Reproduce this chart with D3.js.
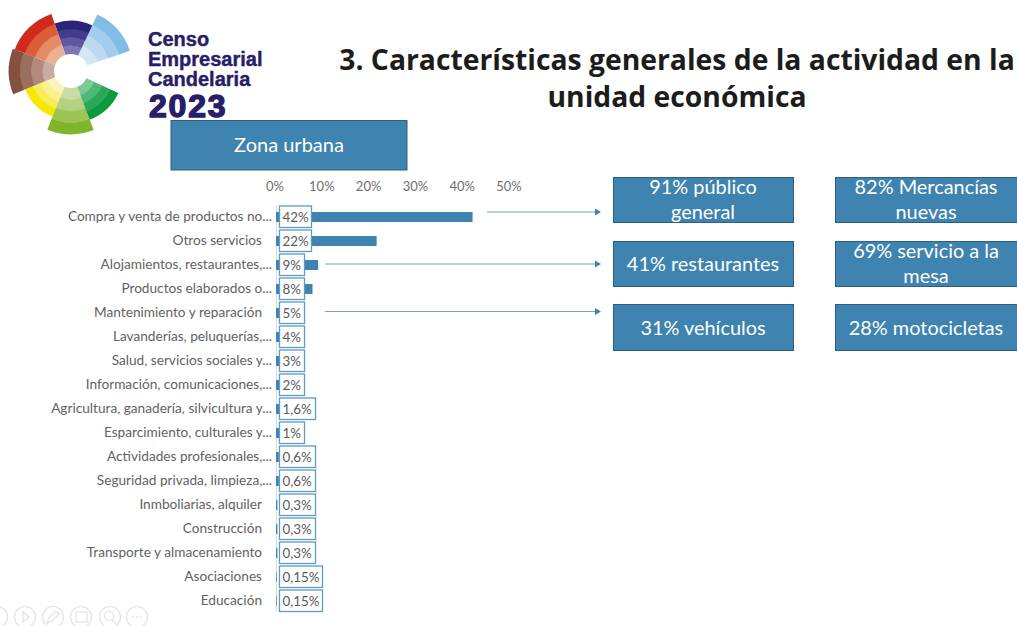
<!DOCTYPE html>
<html lang="es"><head><meta charset="utf-8">
<script src="https://cdn.jsdelivr.net/npm/d3@7"></script>
<style>
html,body{margin:0;padding:0;background:#fff;overflow:hidden}
svg{display:block}
text{font-family:Lato,"Open Sans",sans-serif}
</style></head><body><svg id="c" width="1017" height="626"></svg>
<script>
const categories=["Compra y venta de productos no...","Otros servicios","Alojamientos, restaurantes,...","Productos elaborados o...","Mantenimiento y reparación","Lavanderías, peluquerías,...","Salud, servicios sociales y...","Información, comunicaciones,...","Agricultura, ganadería, silvicultura y...","Esparcimiento, culturales y...","Actividades profesionales,...","Seguridad privada, limpieza,...","Inmboliarias, alquiler","Construcción","Transporte y almacenamiento","Asociaciones","Educación"];
const values=[42,21.5,9,7.8,5,4,3,2,1.6,1,0.6,0.6,0.3,0.3,0.3,0.15,0.15];
const valueLabels=["42%","22%","9%","8%","5%","4%","3%","2%","1,6%","1%","0,6%","0,6%","0,3%","0,3%","0,3%","0,15%","0,15%"];
const axisTicks=[0,10,20,30,40,50];
const titleLines=["3. Características generales de la actividad en la","unidad económica"];
const logoWords=["Censo","Empresarial","Candelaria"];
const zoneLabel="Zona urbana";
const calloutRows=[[["91% público","general"],["82% Mercancías","nuevas"]],[["41% restaurantes"],["69% servicio a la","mesa"]],[["31% vehículos"],["28% motocicletas"]]];
const arrowSources=[0,2,4];

const BLUE="#3f83b0",EDGE="#2f5f80";
const svg=d3.select("#c");

/* ---------- logo ---------- */
const sectors=[
 {a0:25,a1:71,r:62,c:["#d5e6f5","#bcd9f0","#a3ccec","#7fbce6"]},
 {a0:-19,a1:25,r:50,c:["#7f78b8","#5f57a0","#443b90","#2a2379"]},
 {a0:-69,a1:-19,r:60,c:["#e9b196","#e58a63","#dd5d38","#cf2a1c"]},
 {a0:-112,a1:-69,r:62,c:["#c8ac9f","#b08a7c","#9a6f5f","#855040"]},
 {a0:-159,a1:-112,r:49,c:["#fbf4b8","#fbf08f","#f9ec5c","#f6e800"]},
 {a0:159,a1:202,r:63,c:["#c9dca3","#b4d184","#9cc556","#7fb52a"]},
 {a0:115,a1:159,r:52,c:["#7ccb94","#4fb876","#2aa858","#0b9a3e"]}];
const logo=svg.append("g").attr("transform","translate(71,71)");
const arc=d3.arc();
const rad=d=>d*Math.PI/180, R0=17;
sectors.forEach(s=>{
  s.c.forEach((col,i)=>{
    logo.append("path").attr("fill",col).attr("d",arc({
      innerRadius:R0+(s.r-R0)*i/4,outerRadius:R0+(s.r-R0)*(i+1)/4+.3,
      startAngle:rad(s.a0),endAngle:rad(s.a1)}));
  });
});
const navy="#272066";
logoWords.forEach((w,i)=>svg.append("text").attr("x",148).attr("y",[46,66,86][i]).text(w)
  .attr("fill",navy).attr("font-size",20).attr("font-weight",700)
  .style("font-family","'Liberation Sans',sans-serif").style("stroke",navy).style("stroke-width",.4));
svg.append("text").attr("x",149).attr("y",116.5).text("2023").attr("fill",navy).attr("font-size",32).attr("font-weight",700)
  .style("font-family","'Liberation Sans',sans-serif").style("stroke",navy).style("stroke-width",1.4).style("letter-spacing","1.8px");

/* ---------- title ---------- */
titleLines.forEach((t,i)=>svg.append("text").attr("x",677).attr("y",[70,107][i]).attr("text-anchor","middle")
  .text(t).attr("fill","#1c1c1c").attr("font-size",28.3).attr("font-weight",700)
  .style("font-family","'Open Sans',sans-serif"));

/* ---------- zone box ---------- */
svg.append("rect").attr("x",171).attr("y",120.5).attr("width",236).attr("height",49.5).attr("fill",BLUE).attr("stroke",EDGE);
svg.append("text").attr("x",289).attr("y",152).attr("text-anchor","middle").attr("fill","#fff").attr("font-size",20).text(zoneLabel);

/* ---------- chart ---------- */
const x=d3.scaleLinear().domain([0,50]).range([276,510]);
const y=d3.scaleBand().domain(categories).range([205,613]);
const axT=d3.axisTop(x).tickValues(axisTicks).tickSize(0).tickFormat(d=>d+"%");
const gx=svg.append("g").attr("transform","translate(-1.5,190.5)").call(axT);
gx.select(".domain").remove();
gx.selectAll("text").attr("fill","#6f6f6f").attr("font-size",13).attr("y",0);
svg.append("line").attr("x1",276.5).attr("x2",276.5).attr("y1",205).attr("y2",611).attr("stroke","#d9d9d9");
svg.selectAll("rect.bar").data(values).join("rect").attr("class","bar")
  .attr("x",x(0)).attr("y",(d,i)=>y(categories[i])+y.bandwidth()/2-5)
  .attr("width",d=>x(d)-x(0)).attr("height",10).attr("fill",BLUE);
const axL=d3.axisLeft(y).tickSize(0);
const gy=svg.append("g").attr("transform","translate(262,0)").call(axL);
gy.select(".domain").remove();
gy.selectAll("text").attr("x",0).attr("fill","#626262").attr("font-size",13.65)
  .attr("dx",d=>d.endsWith("...")?10:0).attr("dy","0.27em");
const lbl=svg.append("g").selectAll("g").data(valueLabels).join("g")
  .attr("transform",(d,i)=>`translate(279,${y(categories[i])+y.bandwidth()/2})`);
const lw=[32,32,25,25,25,25,25,25,36,25,36,36,36,36,36,43,43];
lbl.append("rect").attr("x",.5).attr("y",-11).attr("height",21.5).attr("width",(d,i)=>lw[i])
  .attr("fill","#fff").attr("stroke","#5c9cc4").attr("stroke-width",1.3);
lbl.append("text").attr("x",3.5).attr("y",4.5).attr("fill","#595959").attr("font-size",13.4).text(d=>d);

/* ---------- arrows ---------- */
const arrowStart=[487,325,325];
arrowSources.forEach((c,i)=>{
  const yy=[212,264,311.5][i];
  svg.append("line").attr("x1",arrowStart[i]).attr("x2",596).attr("y1",yy).attr("y2",yy).attr("stroke","#6ea3c4").attr("stroke-width",1);
  svg.append("path").attr("d",`M595,${yy-3.5}L601,${yy}L595,${yy+3.5}Z`).attr("fill",BLUE);
});

/* ---------- callouts ---------- */
const colX=[613,835],colW=[180,182],rowY=[177,241,304],rowH=[45,45,46];
calloutRows.forEach((r,ri)=>r.forEach((lines,ci)=>{
  svg.append("rect").attr("x",colX[ci]+.5).attr("y",rowY[ri]+.5).attr("width",colW[ci]).attr("height",rowH[ri]).attr("fill",BLUE).attr("stroke",EDGE);
  const cx=colX[ci]+colW[ci]/2;
  lines.forEach((t,k)=>{
    const yy=lines.length==1?rowY[ri]+(ri==1?29.5:30.5):rowY[ri]+[17,42][k];
    svg.append("text").attr("x",cx).attr("y",yy).attr("text-anchor","middle").attr("fill","#fff").attr("font-size",19.9).text(t);
  });
}));

/* ---------- faint slideshow controls ---------- */
const ctl=svg.append("g").attr("fill","none").attr("stroke","#e2e2e2").attr("stroke-width",1.2);
[-3,25,53,81,110,137].forEach(cx=>ctl.append("circle").attr("cx",cx).attr("cy",617).attr("r",10.5));
ctl.append("path").attr("d","M23,612L29,617L23,622Z");
ctl.append("path").attr("d","M47,623L49,618L56,611L59,614L52,621Z");
ctl.append("rect").attr("x",76).attr("y",612).attr("width",11).attr("height",10);
ctl.append("circle").attr("cx",109).attr("cy",616).attr("r",4.5);
ctl.append("path").attr("d","M112,620L116,624");
ctl.append("path").attr("d","M132,617H142").attr("stroke-dasharray","2 2");
</script></body></html>
